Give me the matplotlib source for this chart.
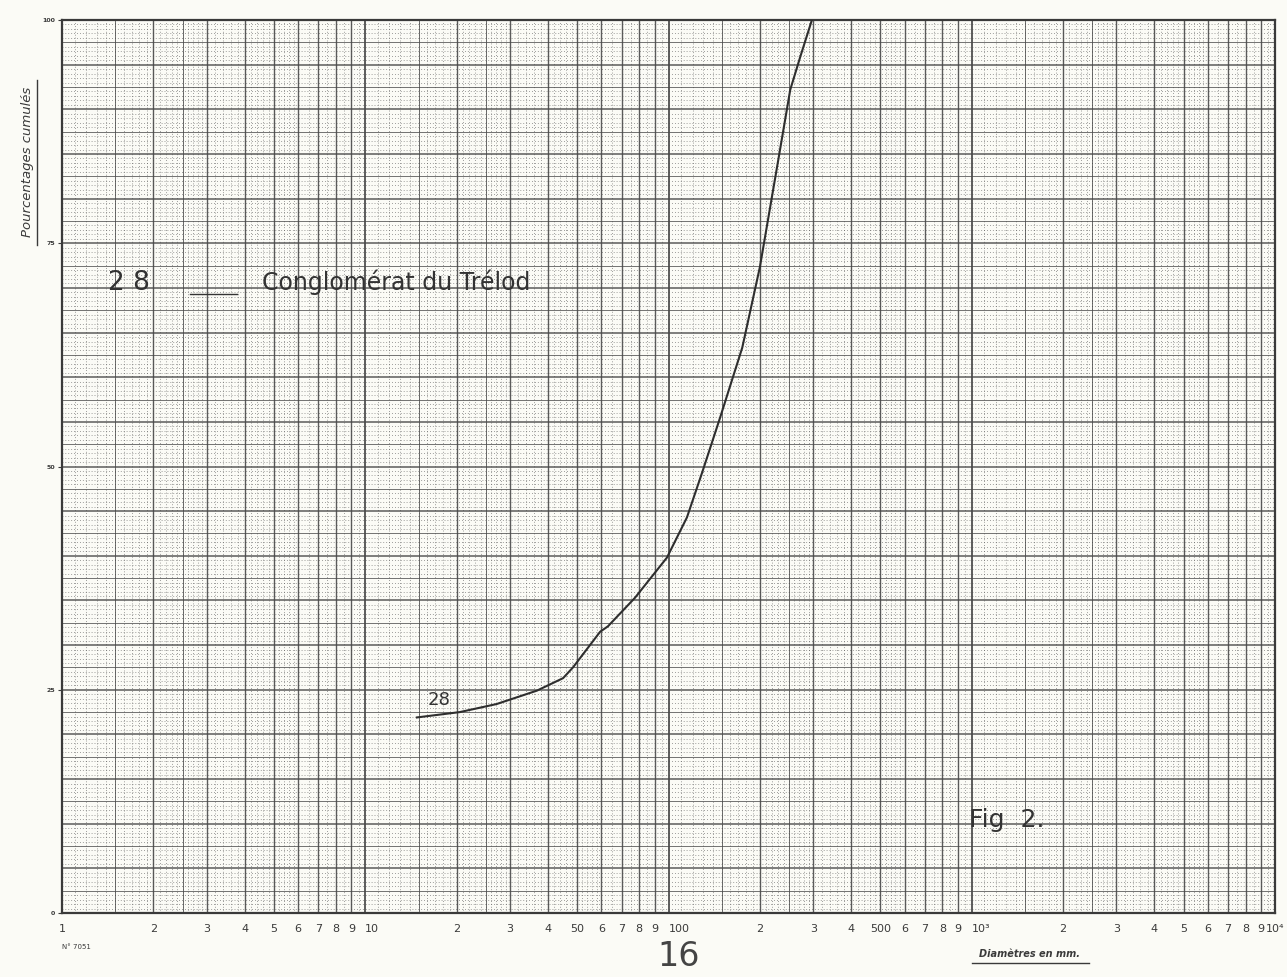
import numpy as np
import matplotlib
matplotlib.use("Agg")
import matplotlib.pyplot as plt
from matplotlib.lines import Line2D

# curve 28 - Conglomérat du Trélod (diameter mm, cumulative %)
diam_mm = [14.8, 20.5, 27.1, 36.8, 44.9, 48.4, 59.5, 63.1, 77.5, 98.8, 115, 129,
           148, 175, 200, 230, 252, 272, 297]
cum_pct = [21.9, 22.5, 23.4, 24.9, 26.3, 27.5, 31.5, 32.1, 35.3, 39.8, 44.3, 49.3,
           55.5, 63.3, 72.3, 84.3, 92.2, 95.9, 100.0]

x_tick_vals = [1, 2, 3, 4, 5, 6, 7, 8, 9, 10,
               20, 30, 40, 50, 60, 70, 80, 90, 100,
               200, 300, 400, 500, 600, 700, 800, 900, 1000,
               2000, 3000, 4000, 5000, 6000, 7000, 8000, 9000, 10000]
x_tick_labels = ["1", "2", "3", "4", "5", "6", "7", "8", "9", "10",
                 "2", "3", "4", "50", "6", "7", "8", "9", "100",
                 "2", "3", "4", "500", "6", "7", "8", "9", "10³",
                 "2", "3", "4", "5", "6", "7", "8", "9", "10⁴"]
y_tick_vals = [0, 25, 50, 75, 100]
y_tick_labels = ["0", "25", "50", "75", "100"]

PAPER = "#fbfbf6"
INK = "#3a3a3a"
GRID = "#4a4a4a"

fig = plt.figure(figsize=(12.87, 9.77), dpi=100, facecolor=PAPER)
ax = fig.add_axes([0.0482, 0.0655, 0.9425, 0.914])
ax.set_facecolor(PAPER)
ax.set_xscale("log")
ax.set_xlim(1, 10000)
ax.set_ylim(0, 100)

# graph paper grid
for dec in [1, 10, 100, 1000]:
    fine = list(np.arange(1.1, 3.0, 0.1)) + list(np.arange(3.2, 6.0, 0.2)) + [6.5, 7.5, 8.5, 9.5]
    for m in fine:
        ax.axvline(m * dec, color=GRID, lw=0.6, ls=(0, (1, 2.5)), alpha=0.7, zorder=1)
    for m in [1.5, 2.5]:
        ax.axvline(m * dec, color=GRID, lw=0.7, alpha=0.8, zorder=1)
    for m in range(1, 10):
        ax.axvline(m * dec, color=GRID, lw=1.4 if m == 1 else 1.0, alpha=0.9, zorder=1)
for v in np.arange(0.5, 100, 0.5):
    if v % 2.5:
        ax.axhline(v, color=GRID, lw=0.6, ls=(0, (1, 2.5)), alpha=0.7, zorder=1)
for v in np.arange(2.5, 100, 2.5):
    ax.axhline(v, color=GRID, lw=1.1 if v % 5 == 0 else 0.6, alpha=0.9, zorder=1)

ax.plot(diam_mm, cum_pct, color="#2e2e2e", lw=1.5, zorder=3)

ax.set_xticks(x_tick_vals)
ax.set_xticklabels(x_tick_labels, fontsize=8, color=INK)
ax.xaxis.set_minor_locator(matplotlib.ticker.NullLocator())
ax.tick_params(axis="x", length=0, pad=8)
for lab in ax.get_xticklabels():
    if lab.get_text() in ("10", "100", "10³"):
        lab.set_horizontalalignment("left")
ax.set_yticks(y_tick_vals)
ax.set_yticklabels(y_tick_labels, fontsize=4.5, color=INK, fontweight="bold")
ax.tick_params(axis="y", length=3, width=0.8, pad=2, colors=INK)
for s in ax.spines.values():
    s.set_color(INK)
    s.set_linewidth(1.6)

# handwritten legend and notes
hand = dict(color="#333333", family="DejaVu Sans", zorder=4)
ax.text(1.42, 70.5, "2 8", fontsize=19, va="center", **hand)
ax.plot([2.64, 3.78], [69.3, 69.3], color="#333333", lw=1.0, zorder=4)
ax.text(4.55, 70.6, "Conglomérat du Trélod", fontsize=17, va="center", **hand)
ax.text(16.0, 23.9, "28", fontsize=13, va="center", **hand)
ax.text(980, 10.4, "Fig  2.", fontsize=18, va="center", **hand)

fig.text(0.021, 0.834, "Pourcentages cumulés", rotation=90, ha="center", va="center",
         fontsize=9.5, style="italic", color=INK)
fig.add_artist(Line2D([0.029, 0.029], [0.749, 0.918], color=INK, lw=1.0))
fig.text(0.80, 0.024, "Diamètres en mm.", ha="center", va="center",
         fontsize=7, style="italic", color=INK, fontweight="bold")
fig.add_artist(Line2D([0.755, 0.846], [0.014, 0.014], color=INK, lw=1.0))
fig.text(0.048, 0.031, "N° 7051", ha="left", va="center", fontsize=5, color=INK)
fig.text(0.527, 0.021, "16", ha="center", va="center", fontsize=24, color="#444444")

fig.savefig("out.png", dpi=100, facecolor=PAPER)
